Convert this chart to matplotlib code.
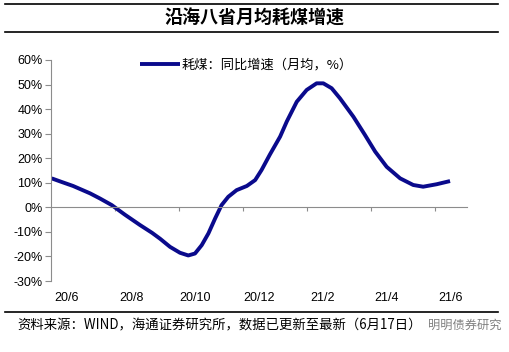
import matplotlib
matplotlib.use("Agg")
import matplotlib.pyplot as plt
from matplotlib.ticker import FuncFormatter

plt.rcParams['font.family'] = ['Liberation Sans', 'Noto Sans CJK SC', 'DejaVu Sans']

# month offset from 2020-06 and YoY growth (%)
month_pos = [-0.48, -0.16, 0.19, 0.72, 1.03, 1.40, 1.81, 2.28, 2.66, 2.91, 3.22, 3.53, 3.79,
             4.00, 4.21, 4.42, 4.63, 4.83, 5.04, 5.30, 5.62, 5.88, 6.08, 6.34, 6.66, 6.87,
             7.18, 7.49, 7.80, 8.01, 8.27, 8.53, 8.95, 9.31, 9.63, 9.99, 10.41, 10.82,
             11.13, 11.55, 11.97]
coal_yoy = [11.8, 10.3, 8.7, 5.7, 3.6, 0.9, -3.0, -7.2, -10.4, -12.8, -16.1, -18.5, -19.6,
            -18.8, -15.4, -10.6, -4.5, 0.9, 4.3, 7.0, 8.7, 11.1, 15.2, 21.5, 28.8, 35.0,
            43.0, 47.8, 50.5, 50.5, 48.5, 44.4, 36.9, 29.5, 22.7, 16.5, 11.8, 9.1,
            8.4, 9.4, 10.7]
tick_labels = ['20/6', '20/8', '20/10', '20/12', '21/2', '21/4', '21/6']
label_pos = [0, 2, 4, 6, 8, 10, 12]
y_ticks = [-30, -20, -10, 0, 10, 20, 30, 40, 50, 60]

title = '沿海八省月均耗煤增速'
legend_label = '耗煤：同比增速（月均，%）'
source = '资料来源：WIND，海通证券研究所，数据已更新至最新（6月17日）'

fig = plt.figure(figsize=(5.1, 3.52), dpi=100)
ax = fig.add_axes([51/510, 1-281/352, (467-51)/510, (281-60)/352])

line_color = '#0A0A8C'
ax.plot(month_pos, coal_yoy, color=line_color, lw=2.8, solid_joinstyle='round',
        solid_capstyle='butt', label=legend_label)

ax.set_xlim(-0.5, 12.5)
ax.set_ylim(-30, 60)
gray = '#8C8C8C'
for s in ['top', 'right']:
    ax.spines[s].set_visible(False)
ax.spines['left'].set_color(gray)
ax.spines['bottom'].set_position(('data', 0))
ax.spines['bottom'].set_color(gray)
ax.set_yticks(y_ticks)
ax.yaxis.set_major_formatter(FuncFormatter(lambda v, p: f'{int(v)}%'))
ax.tick_params(axis='y', colors=gray, length=4, labelcolor='black', labelsize=9, pad=2)
ax.set_xticks([1.5, 3.5, 5.5, 7.5, 9.5, 11.5])
ax.set_xticklabels([])
ax.tick_params(axis='x', colors=gray, length=3, direction='out')

sec = ax.secondary_xaxis(0)
sec.set_xticks(label_pos)
sec.set_xticklabels(tick_labels)
sec.tick_params(length=0, labelsize=9, pad=8)
sec.spines['bottom'].set_visible(False)

leg = ax.legend(loc='center left', bbox_to_anchor=((140-51)/416, (281-65)/221),
                frameon=False, borderaxespad=0, borderpad=0,
                handlelength=3.0, handletextpad=0.15,
                prop={'family': ['Noto Sans CJK SC'], 'size': 9.5})

# header / footer lines and texts
for yy in (4, 32, 312):
    fig.add_artist(plt.Line2D([5/510, 498/510], [1-yy/352, 1-yy/352], color='black', lw=1.2))
fig.text(255/510, 1-18/352, title, ha='center', va='center', fontsize=13, fontweight='bold',
         family=['Noto Sans CJK SC'])
fig.text(17/510, 1-325/352, source, ha='left', va='center', fontsize=9.6,
         family=['Noto Sans CJK SC', 'DejaVu Sans'])
fig.text(428/510, 1-325/352, '明明债券研究', ha='left', va='center', fontsize=8.8,
         color='#555555', alpha=0.75, family=['Noto Sans CJK SC'])

fig.savefig('out.png', dpi=100)
